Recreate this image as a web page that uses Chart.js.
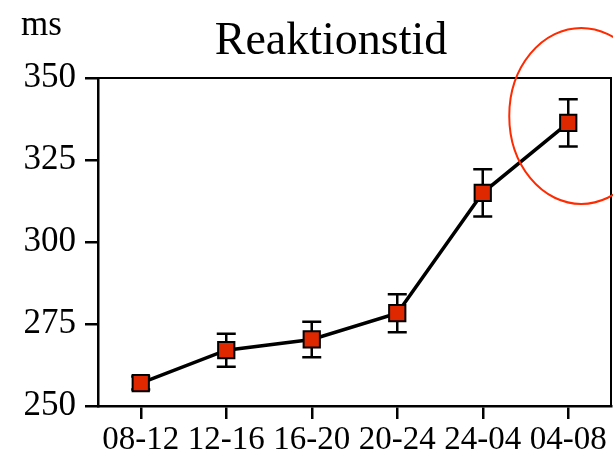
<!DOCTYPE html>
<html lang="sv">
<head>
    <meta charset="UTF-8">
    <title>Reaktionstid</title>
    <script src="https://cdn.jsdelivr.net/npm/chart.js"></script>
    <style>
        html, body { margin: 0; padding: 0; background: #fff; }
        #wrap { width: 613px; height: 455px; }
    </style>
</head>
<body>
    <div id="wrap"><canvas id="chart" width="613" height="455"></canvas></div>

    <script>
        // data
        const periods = ['08-12', '12-16', '16-20', '20-24', '24-04', '04-08'];
        const reactionMs = [257, 267, 270.3, 278.3, 315, 336.3];
        const errorMs = [2, 5, 5.4, 5.8, 7.2, 7.2];
        const yTicks = [250, 275, 300, 325, 350];
        const titleText = 'Reaktionstid';
        const unitLabel = 'ms';
        const highlightIndex = 5;

        const serif = '"Liberation Serif", "DejaVu Serif", serif';

        // error bars, frame, title, unit label and red ring
        const extras = {
            id: 'extras',
            beforeDatasetsDraw(chart) {
                const { ctx, scales: { x, y } } = chart;
                ctx.save();
                ctx.strokeStyle = '#000';
                ctx.lineWidth = 2.5;
                reactionMs.forEach((v, i) => {
                    const px = x.getPixelForValue(i);
                    const top = y.getPixelForValue(v + errorMs[i]);
                    const bot = y.getPixelForValue(v - errorMs[i]);
                    ctx.beginPath();
                    ctx.moveTo(px, top); ctx.lineTo(px, bot);
                    ctx.moveTo(px - 9.5, top); ctx.lineTo(px + 9.5, top);
                    ctx.moveTo(px - 9.5, bot); ctx.lineTo(px + 9.5, bot);
                    ctx.stroke();
                });
                ctx.restore();
            },
            afterDraw(chart) {
                const { ctx, chartArea: a, scales: { x, y } } = chart;
                ctx.save();
                // top and right frame lines
                ctx.strokeStyle = '#000';
                ctx.lineWidth = 2;
                ctx.beginPath();
                ctx.moveTo(a.left, a.top);
                ctx.lineTo(a.right, a.top);
                ctx.lineTo(a.right, a.bottom);
                ctx.stroke();
                // title
                ctx.fillStyle = '#000';
                ctx.textBaseline = 'alphabetic';
                ctx.textAlign = 'center';
                ctx.font = '46px ' + serif;
                ctx.fillText(titleText, 331, 54);
                // unit label
                ctx.textAlign = 'left';
                ctx.font = '35px ' + serif;
                ctx.fillText(unitLabel, 21, 35);
                // ring around the last point
                const cx = x.getPixelForValue(highlightIndex) + 13;
                const cy = y.getPixelForValue(reactionMs[highlightIndex]) - 7;
                ctx.strokeStyle = '#ff2a00';
                ctx.lineWidth = 2;
                ctx.beginPath();
                ctx.ellipse(cx, cy, 72, 88, 0, 0, Math.PI * 2);
                ctx.stroke();
                ctx.restore();
            }
        };

        new Chart(document.getElementById('chart'), {
            type: 'line',
            data: {
                labels: periods,
                datasets: [{
                    data: reactionMs,
                    borderColor: '#000',
                    borderWidth: 3.5,
                    pointStyle: 'rect',
                    pointRadius: 11.5,
                    pointHoverRadius: 11.5,
                    pointBackgroundColor: '#e02800',
                    pointBorderColor: '#000',
                    pointBorderWidth: 2,
                    tension: 0
                }]
            },
            options: {
                responsive: false,
                animation: false,
                layout: { autoPadding: false, padding: { left: 0, right: 2, top: 78, bottom: 0 } },
                plugins: {
                    legend: { display: false },
                    tooltip: { enabled: false },
                    title: { display: false }
                },
                scales: {
                    x: {
                        offset: true,
                        grid: {
                            display: true,
                            drawOnChartArea: false,
                            drawTicks: true,
                            tickLength: 13,
                            color: '#000',
                            lineWidth: 2.5,
                            offset: false
                        },
                        border: { display: true, color: '#000', width: 2.5 },
                        ticks: {
                            color: '#000',
                            font: { family: serif, size: 33 },
                            padding: 2,
                            maxRotation: 0,
                            autoSkip: false
                        },
                        afterFit(s) {
                            s.height = 49;
                            s.paddingLeft = 0;
                            s.paddingRight = 0;
                        }
                    },
                    y: {
                        min: 250,
                        max: 350,
                        afterBuildTicks(s) { s.ticks = yTicks.map(v => ({ value: v })); },
                        grid: {
                            display: true,
                            drawOnChartArea: false,
                            drawTicks: true,
                            tickLength: 13,
                            color: '#000',
                            lineWidth: 2.5
                        },
                        border: { display: true, color: '#000', width: 2.5 },
                        ticks: {
                            color: '#000',
                            font: { family: serif, size: 35 },
                            padding: 9
                        },
                        afterFit(s) {
                            s.width = 98;
                            s.paddingTop = 0;
                            s.paddingBottom = 0;
                        }
                    }
                }
            },
            plugins: [extras]
        });
    </script>
</body>
</html>
